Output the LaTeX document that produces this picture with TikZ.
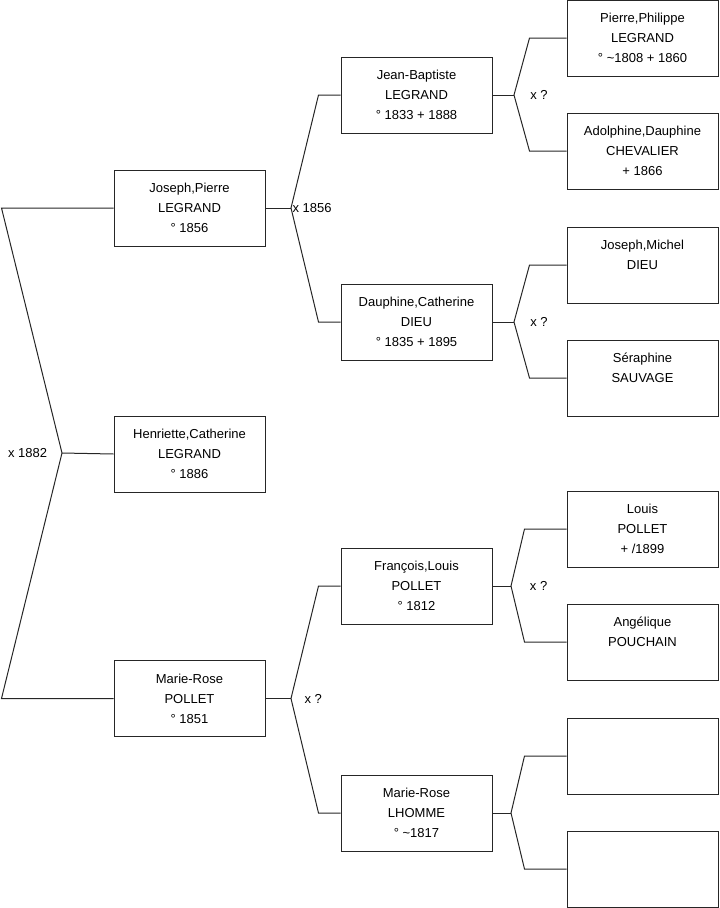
\documentclass[tikz,border=0pt]{standalone}
\usepackage{fontspec}
\setmainfont{Liberation Sans}
\usetikzlibrary{calc}

\begin{document}
\begin{tikzpicture}[
  x=0.75pt, y=-0.75pt,
  person/.style={draw=black!85, line width=0.75pt, minimum width=113.25pt, minimum height=57pt, inner sep=0pt, align=center, font=\fontsize{9.75}{15}\selectfont},
  link/.style={draw=black!85, line width=0.75pt},
  lbl/.style={inner sep=0pt, font=\fontsize{9.75}{12}\selectfont}
]
  \useasboundingbox (0,0) rectangle (719,908);
  % generation 1
  \node[person] (JP)  at (189.5,208)   {Joseph,Pierre\\LEGRAND\\° 1856};
  \node[person] (HC)  at (189.5,454)   {Henriette,Catherine\\LEGRAND\\° 1886};
  \node[person] (MRP) at (189.5,698.5) {Marie-Rose\\POLLET\\° 1851};
  % generation 2
  \node[person] (JB)  at (416.5,95)  {Jean-Baptiste\\LEGRAND\\° 1833 + 1888};
  \node[person] (DC)  at (416.5,322) {Dauphine,Catherine\\DIEU\\° 1835 + 1895};
  \node[person] (FL)  at (416.5,586) {François,Louis\\POLLET\\° 1812};
  \node[person] (MRL) at (416.5,813) {Marie-Rose\\LHOMME\\° \textasciitilde 1817};
  % generation 3
  \node[person] (PP) at (642.5,38)  {Pierre,Philippe\\LEGRAND\\° \textasciitilde 1808 + 1860};
  \node[person] (AD) at (642.5,151) {Adolphine,Dauphine\\CHEVALIER\\+ 1866};
  \node[person] (JM) at (642.5,265) {Joseph,Michel\\DIEU\\~};
  \node[person] (SE) at (642.5,378) {Séraphine\\SAUVAGE\\~};
  \node[person] (LO) at (642.5,529) {Louis\\POLLET\\+ /1899};
  \node[person] (AN) at (642.5,642) {Angélique\\POUCHAIN\\~};
  \node[person] (E1) at (642.5,756) {};
  \node[person] (E2) at (642.5,869) {};

  % marriage points
  \coordinate (M0)  at (62,453);
  \coordinate (MJP) at (291,208);
  \coordinate (MMR) at (291,698.5);
  \coordinate (MJB) at (514,95);
  \coordinate (MDC) at (514,322);
  \coordinate (MFL) at (511,586);
  \coordinate (MML) at (511,813);

  % links
  \draw[link] (JP.west) -- ++(-112,0) -- (M0) -- ($(MRP.west)+(-112,0)$) -- (MRP.west);
  \draw[link] (M0) -- (HC.west);
  \draw[link] (JP.east) -- (MJP);
  \draw[link] (JB.west) -- ++(-22,0) -- (MJP) -- ($(DC.west)+(-22,0)$) -- (DC.west);
  \draw[link] (MRP.east) -- (MMR);
  \draw[link] (FL.west) -- ++(-22,0) -- (MMR) -- ($(MRL.west)+(-22,0)$) -- (MRL.west);
  \draw[link] (JB.east) -- (MJB);
  \draw[link] (PP.west) -- ++(-37,0) -- (MJB) -- ($(AD.west)+(-37,0)$) -- (AD.west);
  \draw[link] (DC.east) -- (MDC);
  \draw[link] (JM.west) -- ++(-37,0) -- (MDC) -- ($(SE.west)+(-37,0)$) -- (SE.west);
  \draw[link] (FL.east) -- (MFL);
  \draw[link] (LO.west) -- ++(-42,0) -- (MFL) -- ($(AN.west)+(-42,0)$) -- (AN.west);
  \draw[link] (MRL.east) -- (MML);
  \draw[link] (E1.west) -- ++(-42,0) -- (MML) -- ($(E2.west)+(-42,0)$) -- (E2.west);

  % marriage labels
  \node[lbl, anchor=east] (L0)  at ([xshift=-11pt]M0)  {x 1882};
  \node[lbl, anchor=west] (LJP) at ([xshift=1pt]MJP)   {x 1856};
  \node[lbl, anchor=west] (LMR) at ([xshift=10pt]MMR)  {x ?};
  \node[lbl, anchor=west] (LJB) at ([xshift=12pt]MJB)  {x ?};
  \node[lbl, anchor=west] (LDC) at ([xshift=12pt]MDC)  {x ?};
  \node[lbl, anchor=west] (LFL) at ([xshift=14pt]MFL)  {x ?};
\end{tikzpicture}
\end{document}
